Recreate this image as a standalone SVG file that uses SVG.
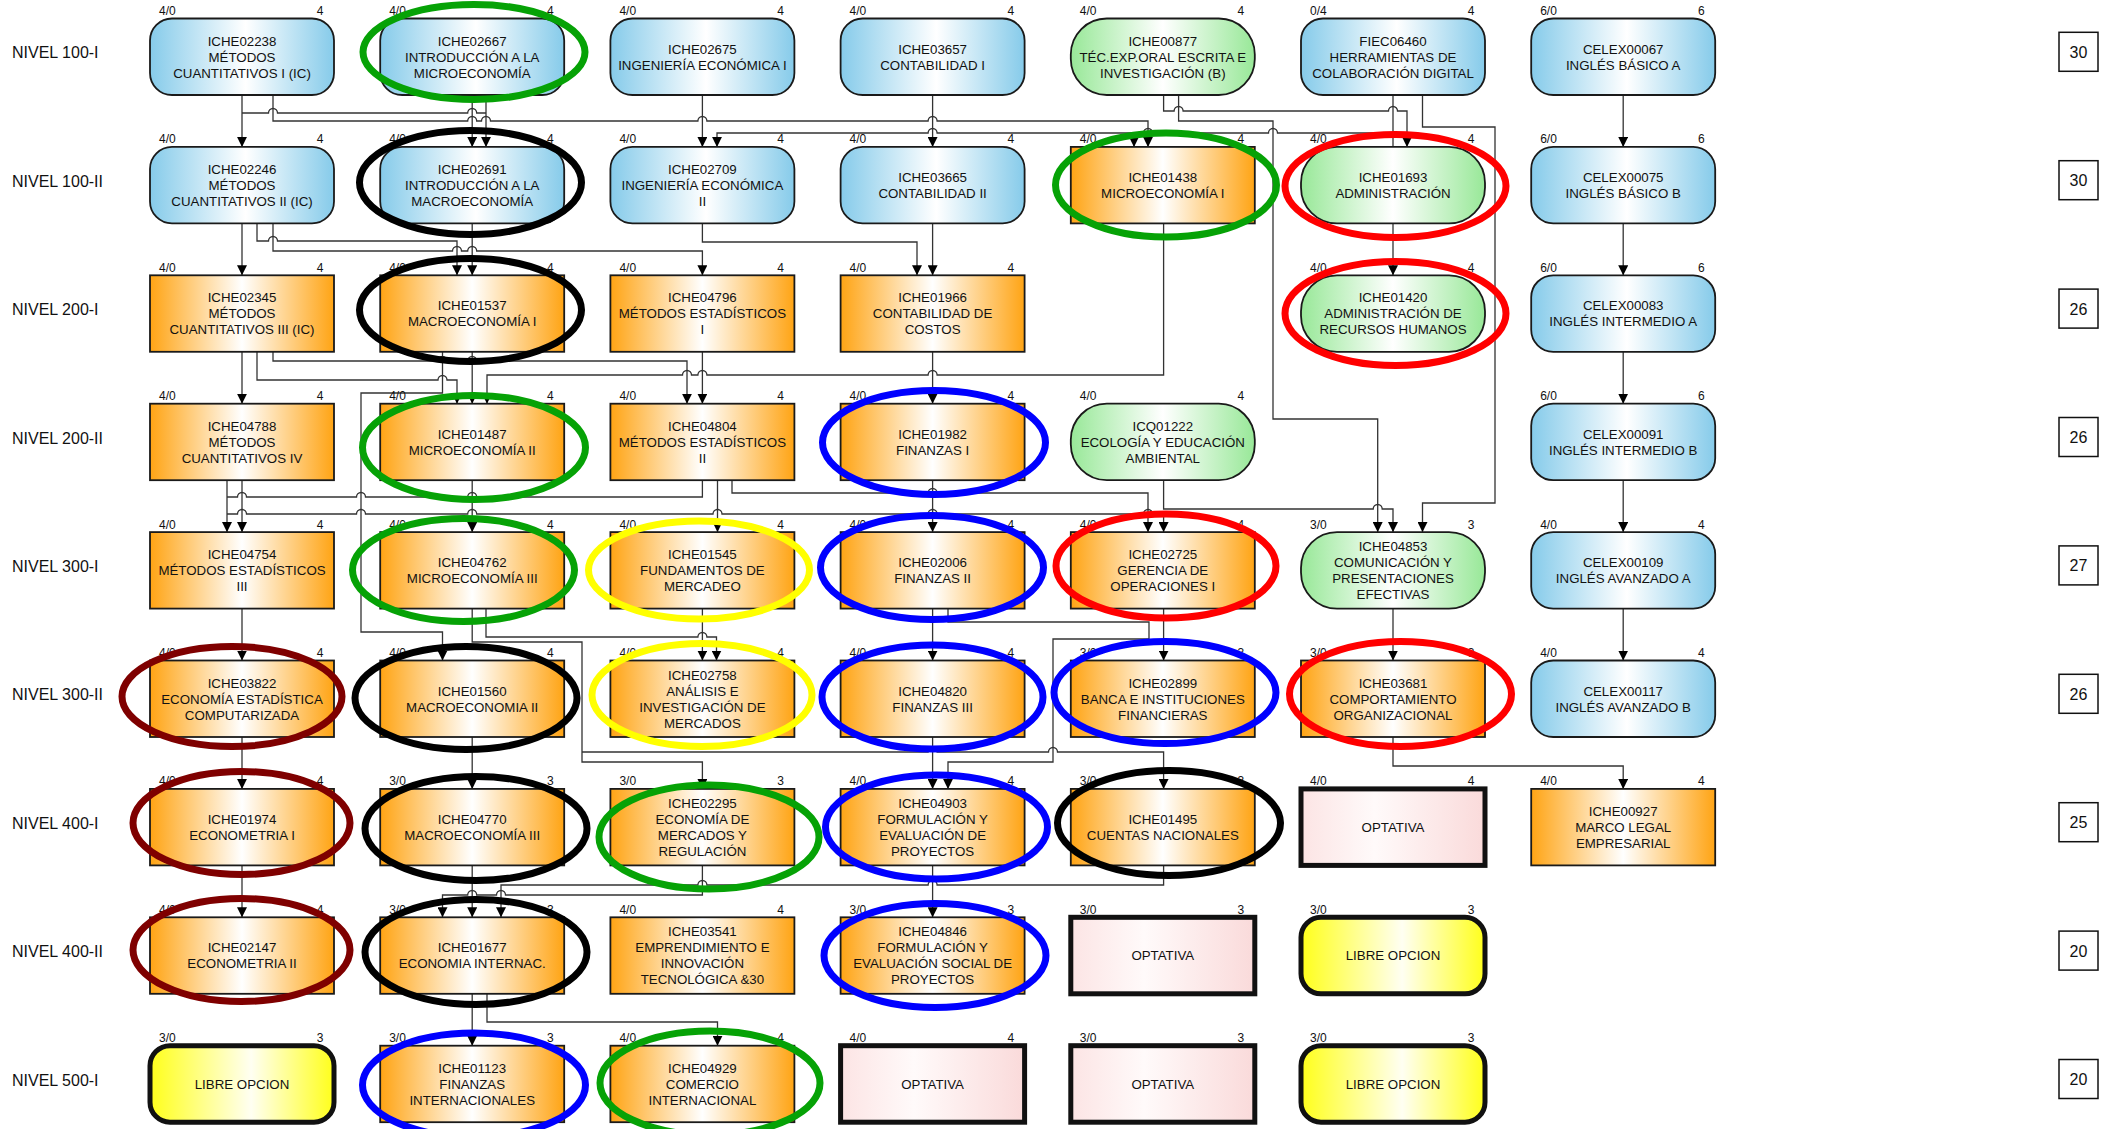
<svg xmlns="http://www.w3.org/2000/svg" width="2113" height="1129" viewBox="0 0 2113 1129">
<defs>
<linearGradient id="gB" x1="0" y1="0" x2="1" y2="0"><stop offset="0" stop-color="#86CBEA"/><stop offset="0.52" stop-color="#FFFFFF"/><stop offset="1" stop-color="#86CBEA"/></linearGradient>
<linearGradient id="gO" x1="0" y1="0" x2="1" y2="0"><stop offset="0" stop-color="#FFA414"/><stop offset="0.5" stop-color="#FFFFFF"/><stop offset="1" stop-color="#FFA414"/></linearGradient>
<linearGradient id="gG" x1="0" y1="0" x2="1" y2="0"><stop offset="0" stop-color="#98E898"/><stop offset="0.5" stop-color="#FFFFFF"/><stop offset="1" stop-color="#98E898"/></linearGradient>
<linearGradient id="gP" x1="0" y1="0" x2="1" y2="0"><stop offset="0" stop-color="#FCE4E4"/><stop offset="0.4" stop-color="#FFFAFA"/><stop offset="1" stop-color="#FADADA"/></linearGradient>
<linearGradient id="gY" x1="0" y1="0" x2="1" y2="0"><stop offset="0" stop-color="#FFFF1A"/><stop offset="0.55" stop-color="#FFFFF2"/><stop offset="1" stop-color="#FFFF1A"/></linearGradient>
<marker id="ar" viewBox="0 0 10 10" refX="10" refY="5" markerUnits="userSpaceOnUse" markerWidth="10" markerHeight="10" orient="auto"><path d="M0,0 L10,5 L0,10 z" fill="#000"/></marker>
</defs>
<style>
text{font-family:"Liberation Sans",Arial,sans-serif;fill:#111}
.t{font-size:13.3px;text-anchor:middle}
.s{font-size:12px}
.r{text-anchor:end}
.lv{font-size:16px}
.cr{font-size:16px;text-anchor:middle}
.c{fill:none;stroke:#333;stroke-width:1.3}
.a{marker-end:url(#ar)}
.nb{fill:url(#gB);stroke:#1a1a1a;stroke-width:1.8}
.no{fill:url(#gO);stroke:#1a1a1a;stroke-width:1.8}
.ng{fill:url(#gG);stroke:#1a1a1a;stroke-width:1.8}
.np{fill:url(#gP);stroke:#111;stroke-width:5}
.ny{fill:url(#gY);stroke:#111;stroke-width:5}
.cb{fill:#fff;stroke:#111;stroke-width:1.5}
.e{fill:none;stroke-width:7}
</style>
<rect width="2113" height="1129" fill="#fff"/>

<g id="levels">
<text class="lv" x="12" y="58.3">NIVEL 100-I</text>
<text class="lv" x="12" y="186.7">NIVEL 100-II</text>
<text class="lv" x="12" y="315.1">NIVEL 200-I</text>
<text class="lv" x="12" y="443.5">NIVEL 200-II</text>
<text class="lv" x="12" y="571.9">NIVEL 300-I</text>
<text class="lv" x="12" y="700.3">NIVEL 300-II</text>
<text class="lv" x="12" y="828.7">NIVEL 400-I</text>
<text class="lv" x="12" y="957.1">NIVEL 400-II</text>
<text class="lv" x="12" y="1085.5">NIVEL 500-I</text>
</g>
<g id="credits">
<rect class="cb" x="2059" y="32.3" width="39" height="39"/><text class="cr" x="2078.5" y="57.8">30</text>
<rect class="cb" x="2059" y="160.7" width="39" height="39"/><text class="cr" x="2078.5" y="186.2">30</text>
<rect class="cb" x="2059" y="289.1" width="39" height="39"/><text class="cr" x="2078.5" y="314.6">26</text>
<rect class="cb" x="2059" y="417.5" width="39" height="39"/><text class="cr" x="2078.5" y="443">26</text>
<rect class="cb" x="2059" y="545.9" width="39" height="39"/><text class="cr" x="2078.5" y="571.4">27</text>
<rect class="cb" x="2059" y="674.3" width="39" height="39"/><text class="cr" x="2078.5" y="699.8">26</text>
<rect class="cb" x="2059" y="802.7" width="39" height="39"/><text class="cr" x="2078.5" y="828.2">25</text>
<rect class="cb" x="2059" y="931.1" width="39" height="39"/><text class="cr" x="2078.5" y="956.6">20</text>
<rect class="cb" x="2059" y="1059.5" width="39" height="39"/><text class="cr" x="2078.5" y="1085">20</text>
</g>

<g id="connectors">
<path class="c a" d="M242 95 V146.9"/>
<path class="c" d="M242 113 H268.5 a4.5 4.5 0 0 1 9 0 H467.7 a4.5 4.5 0 0 1 9 0 H486"/>
<path class="c a" d="M472.2 95 V146.9"/>
<path class="c a" d="M486 95 V146.9"/>
<path class="c a" d="M273 95 V121 H467.7 a4.5 4.5 0 0 1 9 0 H481.5 a4.5 4.5 0 0 1 9 0 H697.9 a4.5 4.5 0 0 1 9 0 H928.1 a4.5 4.5 0 0 1 9 0 H1148 V146.9"/>
<path class="c a" d="M702.4 95 V146.9"/>
<path class="c a" d="M932.6 95 V146.9"/>
<path class="c" d="M1393 95 V146.9"/>
<path class="c a" d="M1393 133 H1277.5 a4.5 4.5 0 0 0 -9 0 H1152.5 a4.5 4.5 0 0 0 -9 0 H937.1 a4.5 4.5 0 0 0 -9 0 H717 V146.9"/>
<path class="c a" d="M1134 133 V146.9"/>
<path class="c a" d="M1163.6 95 V111 H1174.1 a4.5 4.5 0 0 1 9 0 H1388.5 a4.5 4.5 0 0 1 9 0 H1407 V146.9"/>
<path class="c a" d="M1178.6 95 V121 H1273 V419 H1377.7 V532.1"/>
<path class="c a" d="M1422.5 95 V127 H1495 V503 H1422.5 V532.1"/>
<path class="c a" d="M1623.2 95 V146.9"/>
<path class="c a" d="M1623.2 223.4 V275.3"/>
<path class="c a" d="M1623.2 351.8 V403.7"/>
<path class="c a" d="M1623.2 480.2 V532.1"/>
<path class="c a" d="M1623.2 608.6 V660.5"/>
<path class="c a" d="M242 223.4 V275.3"/>
<path class="c a" d="M257 223.4 V241 H268.5 a4.5 4.5 0 0 1 9 0 H457 V275.3"/>
<path class="c a" d="M273 223.4 V251 H452.5 a4.5 4.5 0 0 1 9 0 H467.7 a4.5 4.5 0 0 1 9 0 H702.4 V275.3"/>
<path class="c a" d="M472.2 223.4 V275.3"/>
<path class="c a" d="M702.4 223.4 V242 H917 V275.3"/>
<path class="c a" d="M932.6 223.4 V275.3"/>
<path class="c a" d="M1393 223.4 V275.3"/>
<path class="c a" d="M1163.6 223.4 V375 H937.1 a4.5 4.5 0 0 0 -9 0 H706.9 a4.5 4.5 0 0 0 -9 0 H691.5 a4.5 4.5 0 0 0 -9 0 H487 V403.7"/>
<path class="c a" d="M242 351.8 V403.7"/>
<path class="c a" d="M273 351.8 V361 H438 a4.5 4.5 0 0 1 9 0 H467.7 a4.5 4.5 0 0 1 9 0 H687 V403.7"/>
<path class="c a" d="M257 351.8 V380 H438 a4.5 4.5 0 0 1 9 0 H457 V403.7"/>
<path class="c a" d="M472.2 351.8 V403.7"/>
<path class="c a" d="M442.5 351.8 V393 H361 V632 H442.5 V660.5"/>
<path class="c a" d="M702.4 351.8 V403.7"/>
<path class="c a" d="M932.6 351.8 V403.7"/>
<path class="c a" d="M227 480.2 V532.1"/>
<path class="c a" d="M242 480.2 V532.1"/>
<path class="c" d="M702.4 480.2 V497 H476.7 a4.5 4.5 0 0 0 -9 0 H365.5 a4.5 4.5 0 0 0 -9 0 H246.5 a4.5 4.5 0 0 0 -9 0 H227"/>
<path class="c a" d="M227 514 H237.5 a4.5 4.5 0 0 1 9 0 H356.5 a4.5 4.5 0 0 1 9 0 H467.7 a4.5 4.5 0 0 1 9 0 H713 a4.5 4.5 0 0 1 9 0 H928.1 a4.5 4.5 0 0 1 9 0 H1143.5 a4.5 4.5 0 0 1 9 0 H1163.6 V532.1"/>
<path class="c a" d="M472.2 480.2 V532.1"/>
<path class="c a" d="M717.5 480.2 V532.1"/>
<path class="c a" d="M732 480.2 V493 H928.1 a4.5 4.5 0 0 1 9 0 H1148 V532.1"/>
<path class="c a" d="M932.6 480.2 V532.1"/>
<path class="c a" d="M1163.6 480.2 V509 H1373.2 a4.5 4.5 0 0 1 9 0 H1393 V532.1"/>
<path class="c a" d="M242 608.6 V660.5"/>
<path class="c a" d="M472.2 608.6 V642 H582 V762 H702.4 V788.9"/>
<path class="c a" d="M582 752 H928.1 a4.5 4.5 0 0 1 9 0 H1048.5 a4.5 4.5 0 0 1 9 0 H1163.6 V788.9"/>
<path class="c a" d="M486 608.6 V637 H697.9 a4.5 4.5 0 0 1 9 0 H716.5 V660.5"/>
<path class="c a" d="M702.4 608.6 V660.5"/>
<path class="c a" d="M932.6 608.6 V660.5"/>
<path class="c a" d="M948 608.6 V622 H1149 V639 H1053 V762 H948 V788.9"/>
<path class="c a" d="M1163.6 608.6 V660.5"/>
<path class="c a" d="M1393 608.6 V660.5"/>
<path class="c a" d="M242 737 V788.9"/>
<path class="c a" d="M472.2 737 V788.9"/>
<path class="c a" d="M932.6 737 V788.9"/>
<path class="c a" d="M1393 737 V766 H1623.2 V788.9"/>
<path class="c a" d="M242 865.4 V917.3"/>
<path class="c a" d="M472.2 865.4 V917.3"/>
<path class="c a" d="M702.4 865.4 V895 H505.5 a4.5 4.5 0 0 0 -9 0 H476.7 a4.5 4.5 0 0 0 -9 0 H442.5 V917.3"/>
<path class="c a" d="M1163.6 865.4 V885 H937.1 a4.5 4.5 0 0 0 -9 0 H706.9 a4.5 4.5 0 0 0 -9 0 H501 V917.3"/>
<path class="c a" d="M932.6 865.4 V917.3"/>
<path class="c a" d="M472.2 993.8 V1045.7"/>
<path class="c a" d="M487 993.8 V1022 H717.5 V1045.7"/>
</g>

<g id="ICHE02238"><rect class="nb" x="150" y="18.5" width="184" height="76.5" rx="22"/><text class="s" x="159" y="15">4/0</text><text class="s r" x="323.5" y="15">4</text><text class="t" x="242" y="45.55">ICHE02238<tspan x="242" dy="16">MÉTODOS</tspan><tspan x="242" dy="16">CUANTITATIVOS I (IC)</tspan></text></g>
<g id="ICHE02667"><rect class="nb" x="380.2" y="18.5" width="184" height="76.5" rx="22"/><text class="s" x="389.2" y="15">4/0</text><text class="s r" x="553.7" y="15">4</text><text class="t" x="472.2" y="45.55">ICHE02667<tspan x="472.2" dy="16">INTRODUCCIÓN A LA</tspan><tspan x="472.2" dy="16">MICROECONOMÍA</tspan></text></g>
<g id="ICHE02675"><rect class="nb" x="610.4" y="18.5" width="184" height="76.5" rx="22"/><text class="s" x="619.4" y="15">4/0</text><text class="s r" x="783.9" y="15">4</text><text class="t" x="702.4" y="53.55">ICHE02675<tspan x="702.4" dy="16">INGENIERÍA ECONÓMICA I</tspan></text></g>
<g id="ICHE03657"><rect class="nb" x="840.6" y="18.5" width="184" height="76.5" rx="22"/><text class="s" x="849.6" y="15">4/0</text><text class="s r" x="1014.1" y="15">4</text><text class="t" x="932.6" y="53.55">ICHE03657<tspan x="932.6" dy="16">CONTABILIDAD I</tspan></text></g>
<g id="ICHE00877"><rect class="ng" x="1070.8" y="18.5" width="184" height="76.5" rx="36"/><text class="s" x="1079.8" y="15">4/0</text><text class="s r" x="1244.3" y="15">4</text><text class="t" x="1162.8" y="45.55">ICHE00877<tspan x="1162.8" dy="16">TÉC.EXP.ORAL ESCRITA E</tspan><tspan x="1162.8" dy="16">INVESTIGACIÓN (B)</tspan></text></g>
<g id="FIEC06460"><rect class="nb" x="1301" y="18.5" width="184" height="76.5" rx="22"/><text class="s" x="1310" y="15">0/4</text><text class="s r" x="1474.5" y="15">4</text><text class="t" x="1393" y="45.55">FIEC06460<tspan x="1393" dy="16">HERRAMIENTAS DE</tspan><tspan x="1393" dy="16">COLABORACIÓN DIGITAL</tspan></text></g>
<g id="CELEX00067"><rect class="nb" x="1531.2" y="18.5" width="184" height="76.5" rx="22"/><text class="s" x="1540.2" y="15">6/0</text><text class="s r" x="1704.7" y="15">6</text><text class="t" x="1623.2" y="53.55">CELEX00067<tspan x="1623.2" dy="16">INGLÉS BÁSICO A</tspan></text></g>

<g id="ICHE02246"><rect class="nb" x="150" y="146.9" width="184" height="76.5" rx="22"/><text class="s" x="159" y="143.4">4/0</text><text class="s r" x="323.5" y="143.4">4</text><text class="t" x="242" y="173.95">ICHE02246<tspan x="242" dy="16">MÉTODOS</tspan><tspan x="242" dy="16">CUANTITATIVOS II (IC)</tspan></text></g>
<g id="ICHE02691"><rect class="nb" x="380.2" y="146.9" width="184" height="76.5" rx="22"/><text class="s" x="389.2" y="143.4">4/0</text><text class="s r" x="553.7" y="143.4">4</text><text class="t" x="472.2" y="173.95">ICHE02691<tspan x="472.2" dy="16">INTRODUCCIÓN A LA</tspan><tspan x="472.2" dy="16">MACROECONOMÍA</tspan></text></g>
<g id="ICHE02709"><rect class="nb" x="610.4" y="146.9" width="184" height="76.5" rx="22"/><text class="s" x="619.4" y="143.4">4/0</text><text class="s r" x="783.9" y="143.4">4</text><text class="t" x="702.4" y="173.95">ICHE02709<tspan x="702.4" dy="16">INGENIERÍA ECONÓMICA</tspan><tspan x="702.4" dy="16">II</tspan></text></g>
<g id="ICHE03665"><rect class="nb" x="840.6" y="146.9" width="184" height="76.5" rx="22"/><text class="s" x="849.6" y="143.4">4/0</text><text class="s r" x="1014.1" y="143.4">4</text><text class="t" x="932.6" y="181.95">ICHE03665<tspan x="932.6" dy="16">CONTABILIDAD II</tspan></text></g>
<g id="ICHE01438"><rect class="no" x="1070.8" y="146.9" width="184" height="76.5"/><text class="s" x="1079.8" y="143.4">4/0</text><text class="s r" x="1244.3" y="143.4">4</text><text class="t" x="1162.8" y="181.95">ICHE01438<tspan x="1162.8" dy="16">MICROECONOMÍA I</tspan></text></g>
<g id="ICHE01693"><rect class="ng" x="1301" y="146.9" width="184" height="76.5" rx="36"/><text class="s" x="1310" y="143.4">4/0</text><text class="s r" x="1474.5" y="143.4">4</text><text class="t" x="1393" y="181.95">ICHE01693<tspan x="1393" dy="16">ADMINISTRACIÓN</tspan></text></g>
<g id="CELEX00075"><rect class="nb" x="1531.2" y="146.9" width="184" height="76.5" rx="22"/><text class="s" x="1540.2" y="143.4">6/0</text><text class="s r" x="1704.7" y="143.4">6</text><text class="t" x="1623.2" y="181.95">CELEX00075<tspan x="1623.2" dy="16">INGLÉS BÁSICO B</tspan></text></g>

<g id="ICHE02345"><rect class="no" x="150" y="275.3" width="184" height="76.5"/><text class="s" x="159" y="271.8">4/0</text><text class="s r" x="323.5" y="271.8">4</text><text class="t" x="242" y="302.35">ICHE02345<tspan x="242" dy="16">MÉTODOS</tspan><tspan x="242" dy="16">CUANTITATIVOS III (IC)</tspan></text></g>
<g id="ICHE01537"><rect class="no" x="380.2" y="275.3" width="184" height="76.5"/><text class="s" x="389.2" y="271.8">4/0</text><text class="s r" x="553.7" y="271.8">4</text><text class="t" x="472.2" y="310.35">ICHE01537<tspan x="472.2" dy="16">MACROECONOMÍA I</tspan></text></g>
<g id="ICHE04796"><rect class="no" x="610.4" y="275.3" width="184" height="76.5"/><text class="s" x="619.4" y="271.8">4/0</text><text class="s r" x="783.9" y="271.8">4</text><text class="t" x="702.4" y="302.35">ICHE04796<tspan x="702.4" dy="16">MÉTODOS ESTADÍSTICOS</tspan><tspan x="702.4" dy="16">I</tspan></text></g>
<g id="ICHE01966"><rect class="no" x="840.6" y="275.3" width="184" height="76.5"/><text class="s" x="849.6" y="271.8">4/0</text><text class="s r" x="1014.1" y="271.8">4</text><text class="t" x="932.6" y="302.35">ICHE01966<tspan x="932.6" dy="16">CONTABILIDAD DE</tspan><tspan x="932.6" dy="16">COSTOS</tspan></text></g>
<g id="ICHE01420"><rect class="ng" x="1301" y="275.3" width="184" height="76.5" rx="36"/><text class="s" x="1310" y="271.8">4/0</text><text class="s r" x="1474.5" y="271.8">4</text><text class="t" x="1393" y="302.35">ICHE01420<tspan x="1393" dy="16">ADMINISTRACIÓN DE</tspan><tspan x="1393" dy="16">RECURSOS HUMANOS</tspan></text></g>
<g id="CELEX00083"><rect class="nb" x="1531.2" y="275.3" width="184" height="76.5" rx="22"/><text class="s" x="1540.2" y="271.8">6/0</text><text class="s r" x="1704.7" y="271.8">6</text><text class="t" x="1623.2" y="310.35">CELEX00083<tspan x="1623.2" dy="16">INGLÉS INTERMEDIO A</tspan></text></g>

<g id="ICHE04788"><rect class="no" x="150" y="403.7" width="184" height="76.5"/><text class="s" x="159" y="400.2">4/0</text><text class="s r" x="323.5" y="400.2">4</text><text class="t" x="242" y="430.75">ICHE04788<tspan x="242" dy="16">MÉTODOS</tspan><tspan x="242" dy="16">CUANTITATIVOS IV</tspan></text></g>
<g id="ICHE01487"><rect class="no" x="380.2" y="403.7" width="184" height="76.5"/><text class="s" x="389.2" y="400.2">4/0</text><text class="s r" x="553.7" y="400.2">4</text><text class="t" x="472.2" y="438.75">ICHE01487<tspan x="472.2" dy="16">MICROECONOMÍA II</tspan></text></g>
<g id="ICHE04804"><rect class="no" x="610.4" y="403.7" width="184" height="76.5"/><text class="s" x="619.4" y="400.2">4/0</text><text class="s r" x="783.9" y="400.2">4</text><text class="t" x="702.4" y="430.75">ICHE04804<tspan x="702.4" dy="16">MÉTODOS ESTADÍSTICOS</tspan><tspan x="702.4" dy="16">II</tspan></text></g>
<g id="ICHE01982"><rect class="no" x="840.6" y="403.7" width="184" height="76.5"/><text class="s" x="849.6" y="400.2">4/0</text><text class="s r" x="1014.1" y="400.2">4</text><text class="t" x="932.6" y="438.75">ICHE01982<tspan x="932.6" dy="16">FINANZAS I</tspan></text></g>
<g id="ICQ01222"><rect class="ng" x="1070.8" y="403.7" width="184" height="76.5" rx="36"/><text class="s" x="1079.8" y="400.2">4/0</text><text class="s r" x="1244.3" y="400.2">4</text><text class="t" x="1162.8" y="430.75">ICQ01222<tspan x="1162.8" dy="16">ECOLOGÍA Y EDUCACIÓN</tspan><tspan x="1162.8" dy="16">AMBIENTAL</tspan></text></g>
<g id="CELEX00091"><rect class="nb" x="1531.2" y="403.7" width="184" height="76.5" rx="22"/><text class="s" x="1540.2" y="400.2">6/0</text><text class="s r" x="1704.7" y="400.2">6</text><text class="t" x="1623.2" y="438.75">CELEX00091<tspan x="1623.2" dy="16">INGLÉS INTERMEDIO B</tspan></text></g>

<g id="ICHE04754"><rect class="no" x="150" y="532.1" width="184" height="76.5"/><text class="s" x="159" y="528.6">4/0</text><text class="s r" x="323.5" y="528.6">4</text><text class="t" x="242" y="559.15">ICHE04754<tspan x="242" dy="16">MÉTODOS ESTADÍSTICOS</tspan><tspan x="242" dy="16">III</tspan></text></g>
<g id="ICHE04762"><rect class="no" x="380.2" y="532.1" width="184" height="76.5"/><text class="s" x="389.2" y="528.6">4/0</text><text class="s r" x="553.7" y="528.6">4</text><text class="t" x="472.2" y="567.15">ICHE04762<tspan x="472.2" dy="16">MICROECONOMÍA III</tspan></text></g>
<g id="ICHE01545"><rect class="no" x="610.4" y="532.1" width="184" height="76.5"/><text class="s" x="619.4" y="528.6">4/0</text><text class="s r" x="783.9" y="528.6">4</text><text class="t" x="702.4" y="559.15">ICHE01545<tspan x="702.4" dy="16">FUNDAMENTOS DE</tspan><tspan x="702.4" dy="16">MERCADEO</tspan></text></g>
<g id="ICHE02006"><rect class="no" x="840.6" y="532.1" width="184" height="76.5"/><text class="s" x="849.6" y="528.6">4/0</text><text class="s r" x="1014.1" y="528.6">4</text><text class="t" x="932.6" y="567.15">ICHE02006<tspan x="932.6" dy="16">FINANZAS II</tspan></text></g>
<g id="ICHE02725"><rect class="no" x="1070.8" y="532.1" width="184" height="76.5"/><text class="s" x="1079.8" y="528.6">4/0</text><text class="s r" x="1244.3" y="528.6">4</text><text class="t" x="1162.8" y="559.15">ICHE02725<tspan x="1162.8" dy="16">GERENCIA DE</tspan><tspan x="1162.8" dy="16">OPERACIONES I</tspan></text></g>
<g id="ICHE04853"><rect class="ng" x="1301" y="532.1" width="184" height="76.5" rx="36"/><text class="s" x="1310" y="528.6">3/0</text><text class="s r" x="1474.5" y="528.6">3</text><text class="t" x="1393" y="551.15">ICHE04853<tspan x="1393" dy="16">COMUNICACIÓN Y</tspan><tspan x="1393" dy="16">PRESENTACIONES</tspan><tspan x="1393" dy="16">EFECTIVAS</tspan></text></g>
<g id="CELEX00109"><rect class="nb" x="1531.2" y="532.1" width="184" height="76.5" rx="22"/><text class="s" x="1540.2" y="528.6">4/0</text><text class="s r" x="1704.7" y="528.6">4</text><text class="t" x="1623.2" y="567.15">CELEX00109<tspan x="1623.2" dy="16">INGLÉS AVANZADO A</tspan></text></g>

<g id="ICHE03822"><rect class="no" x="150" y="660.5" width="184" height="76.5"/><text class="s" x="159" y="657">4/0</text><text class="s r" x="323.5" y="657">4</text><text class="t" x="242" y="687.55">ICHE03822<tspan x="242" dy="16">ECONOMÍA ESTADÍSTICA</tspan><tspan x="242" dy="16">COMPUTARIZADA</tspan></text></g>
<g id="ICHE01560"><rect class="no" x="380.2" y="660.5" width="184" height="76.5"/><text class="s" x="389.2" y="657">4/0</text><text class="s r" x="553.7" y="657">4</text><text class="t" x="472.2" y="695.55">ICHE01560<tspan x="472.2" dy="16">MACROECONOMIA II</tspan></text></g>
<g id="ICHE02758"><rect class="no" x="610.4" y="660.5" width="184" height="76.5"/><text class="s" x="619.4" y="657">4/0</text><text class="s r" x="783.9" y="657">4</text><text class="t" x="702.4" y="679.55">ICHE02758<tspan x="702.4" dy="16">ANÁLISIS E</tspan><tspan x="702.4" dy="16">INVESTIGACIÓN DE</tspan><tspan x="702.4" dy="16">MERCADOS</tspan></text></g>
<g id="ICHE04820"><rect class="no" x="840.6" y="660.5" width="184" height="76.5"/><text class="s" x="849.6" y="657">4/0</text><text class="s r" x="1014.1" y="657">4</text><text class="t" x="932.6" y="695.55">ICHE04820<tspan x="932.6" dy="16">FINANZAS III</tspan></text></g>
<g id="ICHE02899"><rect class="no" x="1070.8" y="660.5" width="184" height="76.5"/><text class="s" x="1079.8" y="657">3/0</text><text class="s r" x="1244.3" y="657">3</text><text class="t" x="1162.8" y="687.55">ICHE02899<tspan x="1162.8" dy="16">BANCA E INSTITUCIONES</tspan><tspan x="1162.8" dy="16">FINANCIERAS</tspan></text></g>
<g id="ICHE03681"><rect class="no" x="1301" y="660.5" width="184" height="76.5"/><text class="s" x="1310" y="657">3/0</text><text class="s r" x="1474.5" y="657">3</text><text class="t" x="1393" y="687.55">ICHE03681<tspan x="1393" dy="16">COMPORTAMIENTO</tspan><tspan x="1393" dy="16">ORGANIZACIONAL</tspan></text></g>
<g id="CELEX00117"><rect class="nb" x="1531.2" y="660.5" width="184" height="76.5" rx="22"/><text class="s" x="1540.2" y="657">4/0</text><text class="s r" x="1704.7" y="657">4</text><text class="t" x="1623.2" y="695.55">CELEX00117<tspan x="1623.2" dy="16">INGLÉS AVANZADO B</tspan></text></g>

<g id="ICHE01974"><rect class="no" x="150" y="788.9" width="184" height="76.5"/><text class="s" x="159" y="785.4">4/0</text><text class="s r" x="323.5" y="785.4">4</text><text class="t" x="242" y="823.95">ICHE01974<tspan x="242" dy="16">ECONOMETRIA I</tspan></text></g>
<g id="ICHE04770"><rect class="no" x="380.2" y="788.9" width="184" height="76.5"/><text class="s" x="389.2" y="785.4">3/0</text><text class="s r" x="553.7" y="785.4">3</text><text class="t" x="472.2" y="823.95">ICHE04770<tspan x="472.2" dy="16">MACROECONOMÍA III</tspan></text></g>
<g id="ICHE02295"><rect class="no" x="610.4" y="788.9" width="184" height="76.5"/><text class="s" x="619.4" y="785.4">3/0</text><text class="s r" x="783.9" y="785.4">3</text><text class="t" x="702.4" y="807.95">ICHE02295<tspan x="702.4" dy="16">ECONOMÍA DE</tspan><tspan x="702.4" dy="16">MERCADOS Y</tspan><tspan x="702.4" dy="16">REGULACIÓN</tspan></text></g>
<g id="ICHE04903"><rect class="no" x="840.6" y="788.9" width="184" height="76.5"/><text class="s" x="849.6" y="785.4">4/0</text><text class="s r" x="1014.1" y="785.4">4</text><text class="t" x="932.6" y="807.95">ICHE04903<tspan x="932.6" dy="16">FORMULACIÓN Y</tspan><tspan x="932.6" dy="16">EVALUACIÓN DE</tspan><tspan x="932.6" dy="16">PROYECTOS</tspan></text></g>
<g id="ICHE01495"><rect class="no" x="1070.8" y="788.9" width="184" height="76.5"/><text class="s" x="1079.8" y="785.4">3/0</text><text class="s r" x="1244.3" y="785.4">3</text><text class="t" x="1162.8" y="823.95">ICHE01495<tspan x="1162.8" dy="16">CUENTAS NACIONALES</tspan></text></g>
<g id="r7-optativa"><rect class="np" x="1301" y="788.9" width="184" height="76.5"/><text class="s" x="1310" y="785.4">4/0</text><text class="s r" x="1474.5" y="785.4">4</text><text class="t" x="1393" y="831.95">OPTATIVA</text></g>
<g id="ICHE00927"><rect class="no" x="1531.2" y="788.9" width="184" height="76.5"/><text class="s" x="1540.2" y="785.4">4/0</text><text class="s r" x="1704.7" y="785.4">4</text><text class="t" x="1623.2" y="815.95">ICHE00927<tspan x="1623.2" dy="16">MARCO LEGAL</tspan><tspan x="1623.2" dy="16">EMPRESARIAL</tspan></text></g>

<g id="ICHE02147"><rect class="no" x="150" y="917.3" width="184" height="76.5"/><text class="s" x="159" y="913.8">4/0</text><text class="s r" x="323.5" y="913.8">4</text><text class="t" x="242" y="952.35">ICHE02147<tspan x="242" dy="16">ECONOMETRIA II</tspan></text></g>
<g id="ICHE01677"><rect class="no" x="380.2" y="917.3" width="184" height="76.5"/><text class="s" x="389.2" y="913.8">3/0</text><text class="s r" x="553.7" y="913.8">3</text><text class="t" x="472.2" y="952.35">ICHE01677<tspan x="472.2" dy="16">ECONOMIA INTERNAC.</tspan></text></g>
<g id="ICHE03541"><rect class="no" x="610.4" y="917.3" width="184" height="76.5"/><text class="s" x="619.4" y="913.8">4/0</text><text class="s r" x="783.9" y="913.8">4</text><text class="t" x="702.4" y="936.35">ICHE03541<tspan x="702.4" dy="16">EMPRENDIMIENTO E</tspan><tspan x="702.4" dy="16">INNOVACIÓN</tspan><tspan x="702.4" dy="16">TECNOLÓGICA &amp;30</tspan></text></g>
<g id="ICHE04846"><rect class="no" x="840.6" y="917.3" width="184" height="76.5"/><text class="s" x="849.6" y="913.8">3/0</text><text class="s r" x="1014.1" y="913.8">3</text><text class="t" x="932.6" y="936.35">ICHE04846<tspan x="932.6" dy="16">FORMULACIÓN Y</tspan><tspan x="932.6" dy="16">EVALUACIÓN SOCIAL DE</tspan><tspan x="932.6" dy="16">PROYECTOS</tspan></text></g>
<g id="r8-optativa"><rect class="np" x="1070.8" y="917.3" width="184" height="76.5"/><text class="s" x="1079.8" y="913.8">3/0</text><text class="s r" x="1244.3" y="913.8">3</text><text class="t" x="1162.8" y="960.35">OPTATIVA</text></g>
<g id="r8-libre"><rect class="ny" x="1301" y="917.3" width="184" height="76.5" rx="20"/><text class="s" x="1310" y="913.8">3/0</text><text class="s r" x="1474.5" y="913.8">3</text><text class="t" x="1393" y="960.35">LIBRE OPCION</text></g>

<g id="r9-libre-1"><rect class="ny" x="150" y="1045.7" width="184" height="76.5" rx="20"/><text class="s" x="159" y="1042.2">3/0</text><text class="s r" x="323.5" y="1042.2">3</text><text class="t" x="242" y="1088.75">LIBRE OPCION</text></g>
<g id="ICHE01123"><rect class="no" x="380.2" y="1045.7" width="184" height="76.5"/><text class="s" x="389.2" y="1042.2">3/0</text><text class="s r" x="553.7" y="1042.2">3</text><text class="t" x="472.2" y="1072.75">ICHE01123<tspan x="472.2" dy="16">FINANZAS</tspan><tspan x="472.2" dy="16">INTERNACIONALES</tspan></text></g>
<g id="ICHE04929"><rect class="no" x="610.4" y="1045.7" width="184" height="76.5"/><text class="s" x="619.4" y="1042.2">4/0</text><text class="s r" x="783.9" y="1042.2">4</text><text class="t" x="702.4" y="1072.75">ICHE04929<tspan x="702.4" dy="16">COMERCIO</tspan><tspan x="702.4" dy="16">INTERNACIONAL</tspan></text></g>
<g id="r9-optativa-1"><rect class="np" x="840.6" y="1045.7" width="184" height="76.5"/><text class="s" x="849.6" y="1042.2">4/0</text><text class="s r" x="1014.1" y="1042.2">4</text><text class="t" x="932.6" y="1088.75">OPTATIVA</text></g>
<g id="r9-optativa-2"><rect class="np" x="1070.8" y="1045.7" width="184" height="76.5"/><text class="s" x="1079.8" y="1042.2">3/0</text><text class="s r" x="1244.3" y="1042.2">3</text><text class="t" x="1162.8" y="1088.75">OPTATIVA</text></g>
<g id="r9-libre-2"><rect class="ny" x="1301" y="1045.7" width="184" height="76.5" rx="20"/><text class="s" x="1310" y="1042.2">3/0</text><text class="s r" x="1474.5" y="1042.2">3</text><text class="t" x="1393" y="1088.75">LIBRE OPCION</text></g>

<g id="highlights">
<ellipse class="e" stroke="#06A206" cx="474" cy="52" rx="111" ry="47.5"/>
<ellipse class="e" stroke="#000" cx="470.5" cy="182.5" rx="111" ry="52"/>
<ellipse class="e" stroke="#000" cx="470.5" cy="310" rx="111" ry="51.5"/>
<ellipse class="e" stroke="#06A206" cx="1166" cy="185" rx="110.5" ry="52"/>
<ellipse class="e" stroke="#FF0000" cx="1395.5" cy="186" rx="110.5" ry="51.5"/>
<ellipse class="e" stroke="#FF0000" cx="1395.5" cy="313.5" rx="110.5" ry="52"/>
<ellipse class="e" stroke="#06A206" cx="474" cy="447.5" rx="111.5" ry="52"/>
<ellipse class="e" stroke="#0000FF" cx="934" cy="442.5" rx="111.5" ry="52"/>
<ellipse class="e" stroke="#06A206" cx="463.5" cy="570" rx="111" ry="51.5"/>
<ellipse class="e" stroke="#FFFF00" cx="699" cy="570" rx="110.5" ry="49"/>
<ellipse class="e" stroke="#0000FF" cx="932" cy="567.5" rx="111.5" ry="52"/>
<ellipse class="e" stroke="#FF0000" cx="1166" cy="566" rx="110" ry="52"/>
<ellipse class="e" stroke="#7F0000" cx="232" cy="696.5" rx="110" ry="50"/>
<ellipse class="e" stroke="#000" cx="466" cy="698" rx="111" ry="51.5"/>
<ellipse class="e" stroke="#FFFF00" cx="702" cy="695" rx="110" ry="51.5"/>
<ellipse class="e" stroke="#0000FF" cx="932.5" cy="697" rx="110.5" ry="52"/>
<ellipse class="e" stroke="#0000FF" cx="1165" cy="692.5" rx="111" ry="51"/>
<ellipse class="e" stroke="#FF0000" cx="1400.5" cy="694" rx="111" ry="52.5"/>
<ellipse class="e" stroke="#7F0000" cx="241.5" cy="823" rx="108.5" ry="51.5"/>
<ellipse class="e" stroke="#000" cx="476" cy="828.5" rx="111" ry="52"/>
<ellipse class="e" stroke="#06A206" cx="709" cy="837" rx="110" ry="52"/>
<ellipse class="e" stroke="#0000FF" cx="936.5" cy="827" rx="111" ry="52"/>
<ellipse class="e" stroke="#000" cx="1169" cy="823" rx="111.5" ry="52.5"/>
<ellipse class="e" stroke="#7F0000" cx="241.5" cy="950" rx="108.5" ry="51.5"/>
<ellipse class="e" stroke="#000" cx="476" cy="952" rx="111" ry="52.5"/>
<ellipse class="e" stroke="#0000FF" cx="935" cy="955.5" rx="111" ry="52"/>
<ellipse class="e" stroke="#0000FF" cx="474" cy="1085" rx="111.5" ry="52"/>
<ellipse class="e" stroke="#06A206" cx="710" cy="1083" rx="110" ry="52"/>
</g>
</svg>
